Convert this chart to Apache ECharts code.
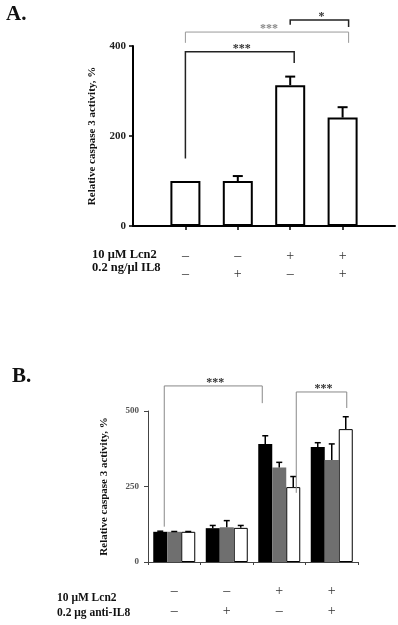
<!DOCTYPE html>
<html>
<head>
<meta charset="utf-8">
<script src="https://cdn.jsdelivr.net/npm/echarts@6/dist/echarts.min.js"></script>
<style>
    html, body {margin: 0; padding: 0; background: #fff;}
    #main {width: 398px; height: 625px;}
</style>
</head>
<body>
<div id="main"></div>
<script>
// panel A
var lcn2A = ['–', '–', '+', '+'];
var il8A = ['–', '+', '–', '+'];
var meanA = [100, 100, 313, 241];
var errA = [0, 11, 19, 23];
var yTicksA = [0, 200, 400];

// panel B
var lcn2B = ['–', '–', '+', '+'];
var antiB = ['–', '+', '–', '+'];
var blackB = [100, 112, 391, 381];
var blackErrB = [2, 9, 27, 14];
var grayB = [100, 115, 313, 338];
var grayErrB = [1, 22, 17, 53];
var whiteB = [100, 113, 248, 440];
var whiteErrB = [1, 8, 35, 41];
var yTicksB = [0, 250, 500];

// significance brackets: [category, px shift, value] for each foot, top value
var bracketsA = [
    {left: [1, 0, 150], right: [3, 4, 362], top: 387, text: '***', color: '#222', width: 1.5},
    {left: [1, 0, 407], right: [4, 6, 407], top: 431, text: '***', color: '#999', width: 1},
    {left: [3, 0, 447], right: [4, 6, 442], top: 458, text: '*', color: '#222', width: 1.5}
];
var bracketsB = [
    {left: [0, -10, 117], right: [2, -17, 526], top: 583, text: '***', color: '#888', width: 1},
    {left: [2, 17, 229], right: [3, 15, 510], top: 563, text: '***', color: '#888', width: 1}
];

var serif = '"Liberation Serif", "Times New Roman", serif';

function signLabels(row1, row2) {
    var out = [];
    for (var i = 0; i < row1.length; i++) {
        out.push(row1[i] + '\n' + row2[i]);
    }
    return out;
}

function errorSeries(xIdx, yIdx, means, errs, shift, dx, cap, lw) {
    var data = [];
    for (var i = 0; i < means.length; i++) {
        if (errs[i] > 0) {
            data.push([i + shift, means[i], means[i] + errs[i]]);
        }
    }
    return {
        type: 'custom',
        xAxisIndex: xIdx,
        yAxisIndex: yIdx,
        z: 5,
        data: data,
        renderItem: function (params, api) {
            var p0 = api.coord([api.value(0), api.value(1)]);
            var p1 = api.coord([api.value(0), api.value(2)]);
            var cx = p0[0] + dx;
            var st = {stroke: '#000', lineWidth: lw};
            return {
                type: 'group',
                children: [
                    {type: 'line', shape: {x1: cx, y1: p0[1], x2: cx, y2: p1[1]}, style: st},
                    {type: 'line', shape: {x1: cx - cap, y1: p1[1], x2: cx + cap, y2: p1[1]}, style: st}
                ]
            };
        }
    };
}

var catsA = [''].concat(signLabels(lcn2A, il8A)).concat(['']);
var barsA = ['-'].concat(meanA).concat(['-']);

var option = {
    animation: false,
    backgroundColor: '#fff',
    grid: [
        {left: 133, top: 46, width: 262, height: 180},
        {left: 148, top: 411, width: 210, height: 151}
    ],
    xAxis: [
        {
            gridIndex: 0,
            type: 'category',
            boundaryGap: false,
            data: catsA,
            axisLine: {lineStyle: {color: '#000', width: 2}},
            axisTick: {
                show: true, length: 4,
                interval: function (i) { return i > 0 && i < catsA.length - 1; },
                lineStyle: {color: '#000', width: 1.5}
            },
            axisLabel: {interval: 0, margin: 21, fontFamily: serif, fontSize: 14, lineHeight: 18, color: '#333'},
            splitLine: {show: false}
        },
        {
            gridIndex: 1,
            type: 'category',
            data: signLabels(lcn2B, antiB),
            axisLine: {lineStyle: {color: '#444', width: 1}},
            axisTick: {show: true, length: 3, lineStyle: {color: '#444'}},
            axisLabel: {interval: 0, margin: 19, fontFamily: serif, fontSize: 14, lineHeight: 20, color: '#333'},
            splitLine: {show: false}
        }
    ],
    yAxis: [
        {
            gridIndex: 0,
            type: 'value',
            min: yTicksA[0],
            max: yTicksA[yTicksA.length - 1],
            interval: yTicksA[1] - yTicksA[0],
            axisLine: {show: true, lineStyle: {color: '#000', width: 2}},
            axisTick: {show: true, length: 4, lineStyle: {color: '#000', width: 1.5}},
            axisLabel: {margin: 7, fontFamily: serif, fontWeight: 'bold', fontSize: 11, color: '#222'},
            splitLine: {show: false},
            name: 'Relative caspase 3 activity, %',
            nameLocation: 'middle',
            nameRotate: 90,
            nameGap: 35,
            nameTextStyle: {fontFamily: serif, fontWeight: 'bold', fontSize: 11, color: '#111'}
        },
        {
            gridIndex: 1,
            type: 'value',
            min: yTicksB[0],
            max: yTicksB[yTicksB.length - 1],
            interval: yTicksB[1] - yTicksB[0],
            axisLine: {show: true, lineStyle: {color: '#444', width: 1}},
            axisTick: {show: true, length: 4, lineStyle: {color: '#444'}},
            axisLabel: {margin: 9, fontFamily: serif, fontWeight: 'bold', fontSize: 9, color: '#555'},
            splitLine: {show: false},
            name: 'Relative caspase 3 activity, %',
            nameLocation: 'middle',
            nameRotate: 90,
            nameGap: 38,
            nameTextStyle: {fontFamily: serif, fontWeight: 'bold', fontSize: 11, color: '#111'}
        }
    ],
    series: [
        {
            type: 'bar', xAxisIndex: 0, yAxisIndex: 0,
            data: barsA, barWidth: 30,
            itemStyle: {color: '#fff', borderColor: '#000', borderWidth: 2}
        },
        {
            type: 'bar', xAxisIndex: 1, yAxisIndex: 1,
            data: blackB, barWidth: 14, barGap: '0%',
            itemStyle: {color: '#000'}
        },
        {
            type: 'bar', xAxisIndex: 1, yAxisIndex: 1,
            data: grayB, barWidth: 14, barGap: '0%',
            itemStyle: {color: '#6f6f6f'}
        },
        {
            type: 'bar', xAxisIndex: 1, yAxisIndex: 1,
            data: whiteB, barWidth: 14, barGap: '0%',
            itemStyle: {color: '#fff', borderColor: '#000', borderWidth: 1}
        },
        errorSeries(0, 0, meanA, errA, 1, 0, 5, 2),
        errorSeries(1, 1, blackB, blackErrB, 0, -14, 3, 1.5),
        errorSeries(1, 1, grayB, grayErrB, 0, 0, 3, 1.5),
        errorSeries(1, 1, whiteB, whiteErrB, 0, 14, 3, 1.5)
    ]
};

var myChart = echarts.init(document.getElementById('main'));
myChart.setOption(option);

function textEl(x, y, str, size, align) {
    return {
        type: 'text', x: x, y: y, z: 10,
        style: {text: str, fontFamily: serif, fontWeight: 'bold', fontSize: size, fill: '#111',
            align: align || 'left', verticalAlign: 'middle'}
    };
}

function bracketEls(gridIndex, list) {
    var els = [];
    list.forEach(function (b) {
        var l0 = myChart.convertToPixel({gridIndex: gridIndex}, [b.left[0], b.left[2]]);
        var lt = myChart.convertToPixel({gridIndex: gridIndex}, [b.left[0], b.top]);
        var r0 = myChart.convertToPixel({gridIndex: gridIndex}, [b.right[0], b.right[2]]);
        var xl = l0[0] + b.left[1];
        var xr = r0[0] + b.right[1];
        els.push({
            type: 'polyline', z: 10,
            shape: {points: [[xl, l0[1]], [xl, lt[1]], [xr, lt[1]], [xr, r0[1]]]},
            style: {stroke: b.color, lineWidth: b.width, fill: null}
        });
        els.push({
            type: 'text', z: 10, x: (xl + xr) / 2 + 2, y: lt[1] + 3,
            style: {text: b.text, fontFamily: serif, fontWeight: 'bold', fontSize: 12,
                fill: b.color === '#999' ? '#888' : '#333', align: 'center', verticalAlign: 'bottom'}
        });
    });
    return els;
}

var graphics = [
    textEl(6, 15, 'A.', 21),
    textEl(12, 377, 'B.', 21),
    textEl(92, 255, '10 μM Lcn2', 12.5),
    textEl(92, 268, '0.2 ng/μl IL8', 12.5),
    textEl(57, 598, '10 μM Lcn2', 11.5),
    textEl(57, 613, '0.2 μg anti-IL8', 11.5)
].concat(bracketEls(0, bracketsA)).concat(bracketEls(1, bracketsB));

myChart.setOption({graphic: graphics});
</script>
</body>
</html>
